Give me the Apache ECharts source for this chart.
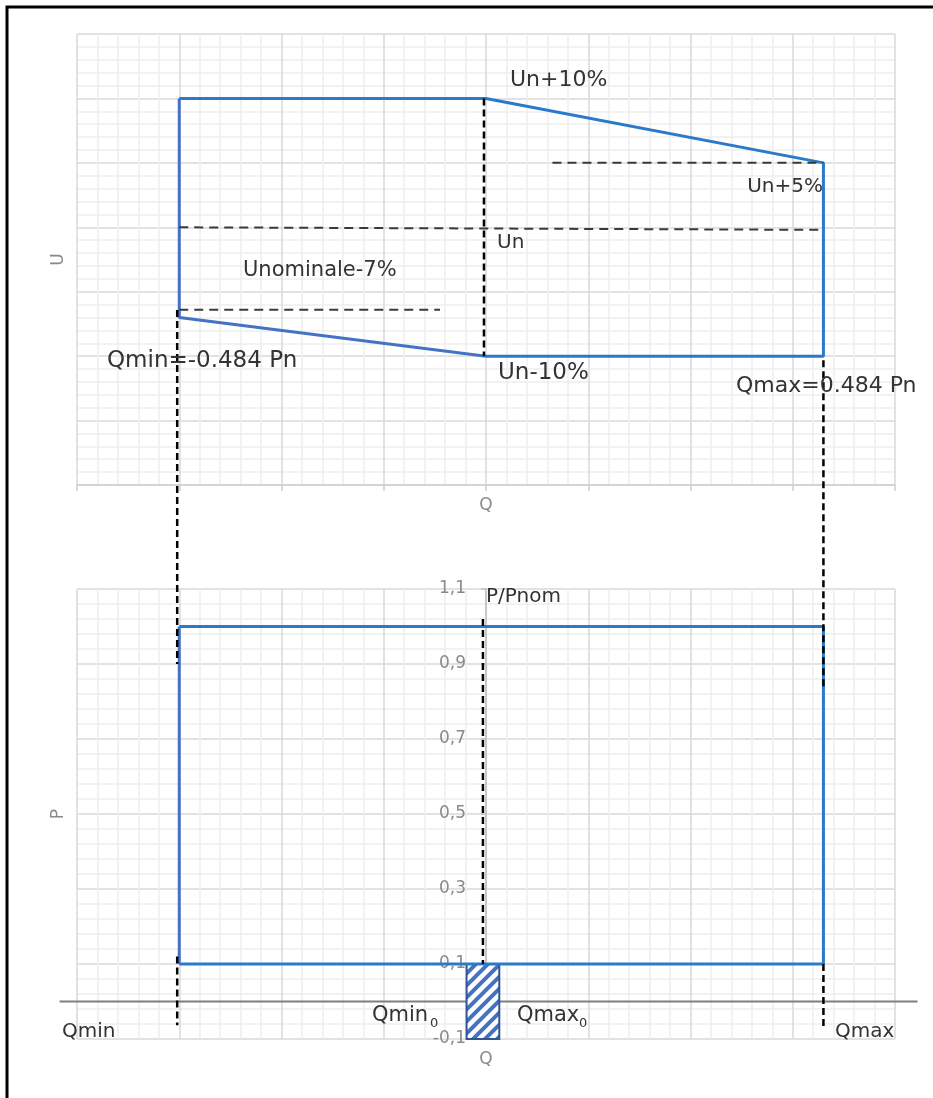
<!DOCTYPE html>
<html>
<head>
<meta charset="utf-8">
<title>Diagramme U(Q) / P(Q)</title>
<script src="https://cdn.jsdelivr.net/npm/echarts@6/dist/echarts.min.js"></script>
<style>
  html, body { margin: 0; padding: 0; background: #fff; }
  #chart { width: 933px; height: 1098px; }
</style>
</head>
<body>
<div id="chart"></div>
<script>
// Q axis (shared), U axis in % of Un, P axis in P/Pnom
const qRange = [-4, 4]
const uRange = [-20, 15]
const pRange = [-0.1, 1.1]

// U(Q) diagram
const uUpperQ = [-3, 0, 3.3, 3.3, 0]
const uUpperU = [10, 10, 5, -10, -10]
const uLowerQ = [0, -3, -3]
const uLowerU = [-10, -7, 10]
const unQ = [-3, 3.3]
const unU = [0, -0.2]
const un5Q = [0.65, 3.3]
const un5U = [5, 5]
const un7Q = [-3, -0.45]
const un7U = [-6.4, -6.4]
const qTopQ = [-0.02, -0.02]
const qTopU = [10, -10]

// P(Q) diagram
const pRectQ = [-3, 3.3, 3.3, -3]
const pRectP = [0.1, 0.1, 1.0, 1.0]
const pLeftQ = [-3, -3]
const pLeftP = [1.0, 0.1]
const qBotQ = [-0.03, -0.03]
const qBotP = [1.02, 0.1]
const band0Q = [-0.19, 0.13]   // Qmin0 .. Qmax0
const band0P = [-0.1, 0.1]
const zeroQ = [-4.17, 4.22]
const zeroP = [0, 0]

// dashed links between both diagrams (P/Pnom units)
const qminLinkQ = [-3.02, -3.02]
const qminLinkTopP = [1.844, 0.9]
const qminLinkBotP = [0.12, -0.063]
const qmaxLinkQ = [3.3, 3.3]
const qmaxLinkTopP = [1.71, 0.83]
const qmaxLinkBotP = [0.1, -0.076]

const FONT = '"DejaVu Sans", sans-serif'
const BLUE = '#2A7AC9'
const BLUE2 = '#4472C4'

function pts(xs, ys) {
  return xs.map((x, i) => [x, ys[i]])
}

function line(grid, xs, ys, style, extra) {
  return Object.assign({
    type: 'line',
    xAxisIndex: grid,
    yAxisIndex: grid,
    data: pts(xs, ys),
    symbol: 'none',
    silent: true,
    animation: false,
    lineStyle: style
  }, extra || {})
}

function hatchCanvas() {
  const c = document.createElement('canvas')
  c.width = c.height = 12
  const ctx = c.getContext('2d')
  ctx.fillStyle = '#fff'
  ctx.fillRect(0, 0, 12, 12)
  ctx.strokeStyle = BLUE2
  ctx.lineWidth = 4
  ctx.beginPath()
  ctx.moveTo(-3, 15); ctx.lineTo(15, -3)
  ctx.moveTo(-9, 9); ctx.lineTo(9, -9)
  ctx.moveTo(3, 21); ctx.lineTo(21, 3)
  ctx.stroke()
  return c
}

const solid = (color) => ({ color: color, width: 3 })
const hDash = { color: '#3a3a3a', width: 2, type: [9, 6] }
const vDash = { color: '#000', width: 2.5, type: [7, 4] }

const majorLine = { show: true, lineStyle: { color: '#d9d9d9', width: 1.5 } }
const minorLine = { show: true, lineStyle: { color: '#eeeeee', width: 1.5 } }
const grayText = { color: '#8a8a8a', fontSize: 17, fontFamily: FONT }

function qAxis(grid, ticks) {
  return {
    type: 'value',
    gridIndex: grid,
    min: qRange[0],
    max: qRange[1],
    interval: 1,
    splitLine: majorLine,
    minorTick: { show: false, splitNumber: 5 },
    minorSplitLine: minorLine,
    axisLine: { show: ticks, onZero: false, lineStyle: { color: '#d0d0d0', width: 1.5 } },
    axisTick: { show: ticks, length: 6, lineStyle: { color: '#d0d0d0', width: 1.5 } },
    axisLabel: Object.assign({ margin: 12, formatter: (v) => (v === 0 ? 'Q' : '') }, grayText)
  }
}

function note(text, x, y, size, align) {
  return {
    type: 'text',
    x: x,
    y: y,
    z: 100,
    style: {
      text: text,
      font: size + 'px ' + FONT,
      fill: '#333',
      textAlign: align || 'left',
      textVerticalAlign: 'middle'
    }
  }
}

const chart = echarts.init(document.getElementById('chart'))
chart.setOption({
  backgroundColor: '#fff',
  animation: false,
  grid: [
    { left: 77, right: 38, top: 34, height: 451, containLabel: false, outerBoundsMode: 'none' },
    { left: 77, right: 38, top: 589, height: 450, containLabel: false, outerBoundsMode: 'none' }
  ],
  xAxis: [qAxis(0, true), qAxis(1, false)],
  yAxis: [
    {
      type: 'value',
      gridIndex: 0,
      min: uRange[0],
      max: uRange[1],
      interval: 5,
      splitLine: majorLine,
      minorTick: { show: false, splitNumber: 5 },
      minorSplitLine: minorLine,
      axisLine: { show: false, onZero: false },
      axisTick: { show: false },
      axisLabel: { show: false },
      name: 'U',
      nameLocation: 'middle',
      nameGap: 10,
      nameTextStyle: grayText
    },
    {
      // P/Pnom scale, drawn on the Q = 0 line (offset from the left edge)
      type: 'value',
      gridIndex: 1,
      min: pRange[0],
      max: pRange[1],
      interval: 0.2,
      position: 'left',
      offset: -409,
      splitLine: majorLine,
      minorTick: { show: false, splitNumber: 5 },
      minorSplitLine: minorLine,
      axisLine: { show: true, onZero: false, lineStyle: { color: '#bfbfbf', width: 1.5 } },
      axisTick: { show: true, length: 5, lineStyle: { color: '#bfbfbf', width: 1.5 } },
      axisLabel: Object.assign({
        margin: 20,
        formatter: (v) => v.toFixed(1).replace('.', ',')
      }, grayText)
    },
    {
      type: 'value',
      gridIndex: 1,
      min: pRange[0],
      max: pRange[1],
      position: 'left',
      splitLine: { show: false },
      axisLine: { show: false, onZero: false },
      axisTick: { show: false },
      axisLabel: { show: false },
      name: 'P',
      nameLocation: 'middle',
      nameGap: 10,
      nameTextStyle: grayText
    }
  ],
  series: [
    // U(Q)
    line(0, uUpperQ, uUpperU, solid(BLUE)),
    line(0, uLowerQ, uLowerU, solid(BLUE2)),
    line(0, unQ, unU, hDash),
    line(0, un5Q, un5U, hDash),
    line(0, un7Q, un7U, hDash),
    line(0, qTopQ, qTopU, vDash),
    // P(Q)
    {
      type: 'custom',
      xAxisIndex: 1,
      yAxisIndex: 1,
      silent: true,
      animation: false,
      encode: { x: [0, 1], y: [2, 3] },
      data: [[band0Q[0], band0Q[1], band0P[0], band0P[1]]],
      renderItem: (params, api) => {
        const a = api.coord([api.value(0), api.value(3)])
        const b = api.coord([api.value(1), api.value(2)])
        return {
          type: 'rect',
          shape: { x: a[0], y: a[1], width: b[0] - a[0], height: b[1] - a[1] },
          style: { fill: { image: hatchCanvas(), repeat: 'repeat' }, stroke: '#2F5597', lineWidth: 2 }
        }
      }
    },
    line(1, pRectQ, pRectP, solid(BLUE)),
    line(1, pLeftQ, pLeftP, solid(BLUE2)),
    line(1, qBotQ, qBotP, vDash),
    line(1, qminLinkQ, qminLinkTopP, vDash, { clip: false }),
    line(1, qminLinkQ, qminLinkBotP, vDash, { clip: false }),
    line(1, qmaxLinkQ, qmaxLinkTopP, vDash, { clip: false }),
    line(1, qmaxLinkQ, qmaxLinkBotP, vDash, { clip: false })
  ]
})

// the P = 0 axis runs past the grid on both sides: place it through the chart's own scale
const z0 = chart.convertToPixel({ gridIndex: 1 }, [zeroQ[0], zeroP[0]])
const z1 = chart.convertToPixel({ gridIndex: 1 }, [zeroQ[1], zeroP[1]])

chart.setOption({
  graphic: [
    {
      type: 'line',
      z: 1,
      shape: { x1: z0[0], y1: z0[1], x2: z1[0], y2: z1[1] },
      style: { stroke: '#7f7f7f', lineWidth: 2 }
    },
    {
      type: 'rect',
      shape: { x: 7, y: 7, width: 1000, height: 1200 },
      style: { fill: 'none', stroke: '#000', lineWidth: 3 },
      z: 100
    },
    note('Un+10%', 510, 80, 22),
    note('Un+5%', 823, 187, 20, 'right'),
    note('Un', 497, 243, 20),
    note('Unominale-7%', 243, 271, 21),
    note('Qmin=-0.484 Pn', 107, 361, 23),
    note('Un-10%', 498, 373, 23),
    note('Qmax=0.484 Pn', 736, 386, 22),
    note('P/Pnom', 486, 597, 20),
    note('Qmin', 62, 1032, 20),
    note('Qmin', 372, 1016, 21),
    note('0', 430, 1024, 13),
    note('Qmax', 517, 1016, 21),
    note('0', 579, 1024, 13),
    note('Qmax', 835, 1032, 20)
  ]
})
</script>
</body>
</html>
